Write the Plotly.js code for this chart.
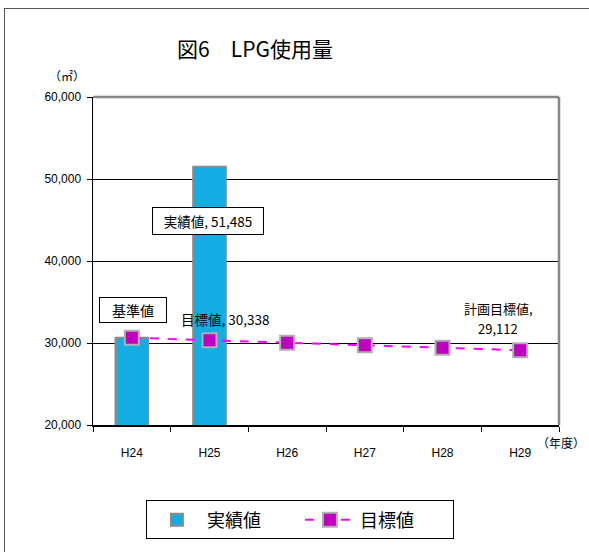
<!DOCTYPE html>
<html><head><meta charset="utf-8">
<script src="https://cdn.plot.ly/plotly-3.0.1.min.js"></script>
<style>
html,body{margin:0;padding:0;background:#fff;}
#frame{position:absolute;left:4px;top:8px;width:640px;height:640px;border-left:1.5px solid #555;border-top:1.5px solid #555;}
#chart{position:absolute;left:0;top:0;width:589px;height:552px;}
</style></head>
<body>
<div id="frame"></div>
<div id="chart"></div>
<script>
const categories = ['H24','H25','H26','H27','H28','H29'];
const actualValues = [30645, 51485, null, null, null, null];
const targetValues = [30645, 30338, 30032, 29725, 29419, 29112];
const yTicks = [20000, 30000, 40000, 50000, 60000];
const yTickLabels = ['20,000','30,000','40,000','50,000','60,000'];

const FONT = 'Liberation Sans, Arial, Noto Sans CJK JP, sans-serif';
const JFONT = 'Noto Sans CJK JP, sans-serif';

const traces = [
  {
    type: 'bar', name: '実績値', x: categories, y: actualValues,
    width: 0.42,
    marker: {color: '#12aee3', line: {color: '#8a8a8a', width: 2}},
    hoverinfo: 'none'
  },
  {
    type: 'scatter', mode: 'lines+markers', name: '目標値', x: categories, y: targetValues,
    line: {color: '#ff00ff', width: 2, dash: 'dash'},
    marker: {symbol: 'square', size: 14, color: '#c000c0', line: {color: '#b0b0b0', width: 2}},
    hoverinfo: 'none'
  }
];

const layout = {
  width: 589, height: 552,
  margin: {l: 93, r: 30, t: 97, b: 120},
  paper_bgcolor: 'rgba(0,0,0,0)', plot_bgcolor: '#fff',
  showlegend: true,
  title: {text: '図6　LPG使用量', x: 0.433, xanchor: 'center', y: 0.91, yanchor: 'middle',
          font: {family: JFONT, size: 21, color: '#000'}},
  xaxis: {
    type: 'category', range: [-0.5, 5.5],
    showline: true, linecolor: '#000', linewidth: 1.5,
    ticks: 'outside', tickson: 'boundaries', ticklen: 5, tickcolor: '#000',
    ticklabelstandoff: 16,
    tickfont: {family: FONT, size: 12, color: '#000'},
    showgrid: false, zeroline: false, fixedrange: true
  },
  yaxis: {
    range: [20000, 60000], tickvals: yTicks, ticktext: yTickLabels,
    showline: true, linecolor: '#000', linewidth: 1.5,
    ticks: 'outside', ticklen: 5, tickcolor: '#000',
    ticklabelstandoff: 3,
    tickfont: {family: FONT, size: 12, color: '#000'},
    showgrid: true, gridcolor: '#000', gridwidth: 1, zeroline: false, fixedrange: true
  },
  shapes: [
    {type: 'line', xref: 'paper', yref: 'paper', x0: 0, x1: 1, y0: 1, y1: 1, line: {color: '#888', width: 2.5}},
    {type: 'line', xref: 'paper', yref: 'paper', x0: 1, x1: 1, y0: 0, y1: 1, line: {color: '#888', width: 2.5}}
  ],
  annotations: [
    {x: 'H24', y: 34000, text: '基準値', showarrow: false, bgcolor: '#fff', bordercolor: '#000', borderwidth: 1, borderpad: 2,
     width: 62, font: {family: JFONT, size: 14, color: '#000'}, xshift: 1},
    {x: 'H25', y: 44900, text: '実績値, 51,485', showarrow: false, bgcolor: '#fff', bordercolor: '#000', borderwidth: 1, borderpad: 3,
     width: 104, font: {family: JFONT, size: 13.5, color: '#000'}, xshift: -2},
    {x: 'H25', y: 32930, text: '目標値, 30,338', showarrow: false,
     font: {family: JFONT, size: 13.5, color: '#000'}, xshift: 16},
    {x: 'H29', y: 34150, text: '計画目標値,', showarrow: false,
     font: {family: JFONT, size: 13, color: '#000'}, xshift: -22},
    {x: 'H29', y: 31800, text: '29,112', showarrow: false,
     font: {family: JFONT, size: 13, color: '#000'}, xshift: -22},
    {xref: 'paper', yref: 'paper', x: 1.004, y: -0.054, xanchor: 'center', yanchor: 'middle', text: '（年度）', showarrow: false,
     font: {family: JFONT, size: 12, color: '#000'}},
    {xref: 'paper', yref: 'paper', x: -0.056, y: 1.066, xanchor: 'center', yanchor: 'middle', text: '（㎡）', showarrow: false,
     font: {family: JFONT, size: 12, color: '#000'}}
  ],
  legend: {
    orientation: 'h', x: 0.444, xanchor: 'center', y: -0.23, yanchor: 'top',
    bordercolor: '#000', borderwidth: 1, bgcolor: '#fff',
    font: {family: JFONT, size: 18, color: '#000'}, itemwidth: 50, entrywidth: 88, traceorder: 'normal'
  }
};

Plotly.newPlot('chart', traces, layout, {displayModeBar: false, staticPlot: true});
</script>
</body></html>
